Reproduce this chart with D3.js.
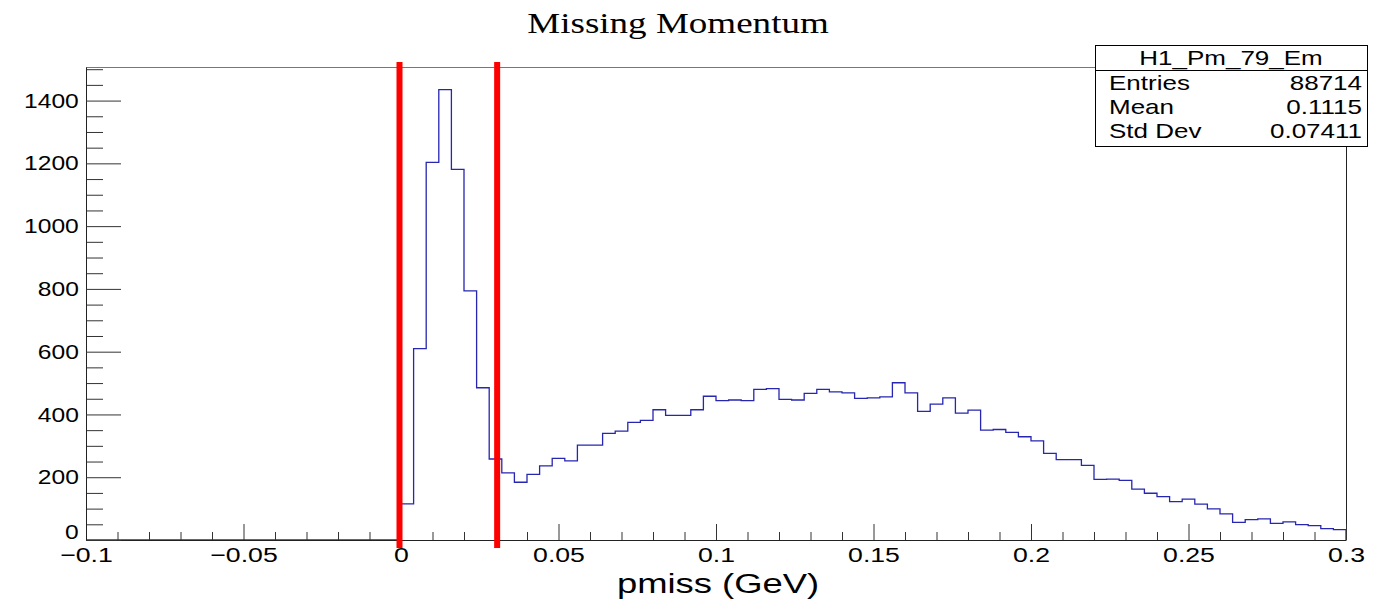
<!DOCTYPE html>
<html>
<head>
<meta charset="utf-8">
<script src="https://cdn.jsdelivr.net/npm/d3@7"></script>
<style>
  body { margin: 0; background: #fff; }
  svg { display: block; }
</style>
</head>
<body>
<svg id="chart" width="1391" height="603"></svg>
<script>
// Histogram H1_Pm_79_Em: 100 bins of 0.004 GeV from -0.1 to 0.3
const binStart = -0.1;
const binWidth = 0.004;
const counts = [
  // -0.100 .. 0.000 (empty)
  0, 0, 0, 0, 0, 0, 0, 0, 0, 0,
  0, 0, 0, 0, 0, 0, 0, 0, 0, 0,
  0, 0, 0, 0, 0,
  // 0.000 .. 0.300
  115, 610, 1203, 1435, 1181, 794, 485, 258, 214, 184,
  209, 236, 260, 252, 302, 302, 340, 347, 375, 381,
  415, 397, 397, 415, 458, 444, 446, 444, 480, 482,
  448, 446, 467, 480, 472, 469, 451, 453, 456, 501,
  469, 410, 433, 453, 404, 414, 350, 352, 343, 329,
  316, 276, 256, 256, 238, 193, 194, 190, 162, 149,
  138, 122, 130, 114, 99, 83, 56, 65, 67, 53,
  58, 49, 46, 36, 33
];

// Selection cut on pmiss
const cutValues = [0, 0.031];

const xDomain = [-0.1, 0.3];
const yMax = 1507;
const xMajorTicks = [-0.1, -0.05, 0, 0.05, 0.1, 0.15, 0.2, 0.25, 0.3];
const xTickLabels = ["\u22120.1", "\u22120.05", "0", "0.05", "0.1", "0.15", "0.2", "0.25", "0.3"];
const yMajorTicks = [0, 200, 400, 600, 800, 1000, 1200, 1400];

const titleText = "Missing Momentum";
const xTitle = "pmiss (GeV)";
const statsName = "H1_Pm_79_Em";
const statsLabels = ["Entries", "Mean", "Std Dev"];
const statsValues = ["88714", "0.1115", "0.07411"];

// Layout
const frame = { left: 86, right: 1346, top: 67, bottom: 540 };
const stretch = 1.3;   // horizontal glyph stretch used for text
const sans = "Liberation Sans, Arial, Helvetica, sans-serif";
const serif = "Liberation Serif, Times New Roman, serif";

const svg = d3.select("#chart");

const x = d3.scaleLinear().domain(xDomain).range([frame.left, frame.right]);
const y = d3.scaleLinear().domain([0, yMax]).range([frame.bottom, frame.top]);

// Frame (top and right edges)
svg.append("line")
  .attr("x1", frame.left).attr("x2", frame.right)
  .attr("y1", frame.top + 0.5).attr("y2", frame.top + 0.5)
  .attr("stroke", "#777").attr("stroke-width", 1);
svg.append("line")
  .attr("x1", frame.right + 0.5).attr("x2", frame.right + 0.5)
  .attr("y1", frame.top).attr("y2", frame.bottom)
  .attr("stroke", "#222").attr("stroke-width", 1);

// Histogram outline
const pts = [[binStart, 0]];
counts.forEach((c, i) => pts.push([binStart + i * binWidth, c]));
const xEnd = binStart + counts.length * binWidth;
pts.push([xEnd, counts[counts.length - 1]]);
pts.push([xEnd, 0]);

const step = d3.line()
  .x(d => x(d[0]))
  .y(d => y(d[1]))
  .curve(d3.curveStepAfter);

svg.append("path")
  .datum(pts)
  .attr("d", step)
  .attr("fill", "none")
  .attr("stroke", "#2626b0")
  .attr("stroke-width", 1.3);

// Axes
function styleAxis(g) {
  g.select(".domain").attr("stroke", "#222");
  g.selectAll(".tick line").attr("stroke", "#333");
}

// x minor ticks every 0.01
const xMinor = d3.range(-10, 31).map(k => k / 100)
  .filter(v => !xMajorTicks.some(m => Math.abs(m - v) < 1e-9));
svg.append("g")
  .attr("transform", `translate(0,${frame.bottom})`)
  .call(d3.axisBottom(x).tickValues(xMinor).tickSizeInner(-8).tickSizeOuter(0).tickFormat(""))
  .call(g => g.select(".domain").remove())
  .call(g => g.selectAll(".tick line").attr("stroke", "#333"));

const xAxis = svg.append("g")
  .attr("transform", `translate(0,${frame.bottom})`)
  .call(d3.axisBottom(x).tickValues(xMajorTicks).tickSizeInner(-16).tickSizeOuter(0)
    .tickPadding(7).tickFormat((d, i) => xTickLabels[i]))
  .call(styleAxis);
xAxis.selectAll(".tick text")
  .attr("font-family", sans).attr("font-size", 20.5).attr("fill", "#000")
  .attr("transform", `scale(${stretch},1)`);

// y minor ticks every 50
const yMinor = d3.range(0, 1501, 50).filter(v => v % 200 !== 0);
svg.append("g")
  .attr("transform", `translate(${frame.left},0)`)
  .call(d3.axisLeft(y).tickValues(yMinor).tickSizeInner(-17).tickSizeOuter(0).tickFormat(""))
  .call(g => g.select(".domain").remove())
  .call(g => g.selectAll(".tick line").attr("stroke", "#333"));

const yStretch = 1.2;
const yAxis = svg.append("g")
  .attr("transform", `translate(${frame.left},0)`)
  .call(d3.axisLeft(y).tickValues(yMajorTicks).tickSizeInner(-35).tickSizeOuter(0)
    .tickPadding(6).tickFormat(d3.format("d")))
  .call(styleAxis);
yAxis.selectAll(".tick text")
  .attr("font-family", sans).attr("font-size", 20.5).attr("fill", "#000")
  .attr("transform", `scale(${yStretch},1)`);
// the zero label sits just above the x-axis labels
yAxis.selectAll(".tick text").filter(d => d === 0).attr("dy", "-0.05em");

// Cut lines
svg.selectAll("line.cut")
  .data(cutValues)
  .join("line")
  .attr("class", "cut")
  .attr("x1", d => x(d) - 1.5).attr("x2", d => x(d) - 1.5)
  .attr("y1", 62).attr("y2", 548)
  .attr("stroke", "#ff0000").attr("stroke-width", 6);

// Text helper with horizontal stretch
function label(px, py, txt, opts) {
  const g = svg.append("g").attr("transform", `translate(${px},${py}) scale(${stretch},1)`);
  g.append("text")
    .attr("text-anchor", opts.anchor || "start")
    .attr("font-family", opts.family || sans)
    .attr("font-size", opts.size)
    .attr("font-weight", opts.weight || "normal")
    .attr("fill", "#000")
    .text(txt);
  return g;
}

// Title and axis title
label(678, 33, titleText, { anchor: "middle", family: serif, size: 28.5 });
label(718, 593, xTitle, { anchor: "middle", size: 28 });

// Statistics box
const box = { left: 1095, right: 1367, top: 45, head: 70, bottom: 146 };
svg.append("rect")
  .attr("x", box.left + 0.5).attr("y", box.top + 0.5)
  .attr("width", box.right - box.left).attr("height", box.bottom - box.top)
  .attr("fill", "#fff").attr("stroke", "#000").attr("stroke-width", 1);
svg.append("line")
  .attr("x1", box.left).attr("x2", box.right)
  .attr("y1", box.head + 0.5).attr("y2", box.head + 0.5)
  .attr("stroke", "#000");
label((box.left + box.right) / 2, 65, statsName, { anchor: "middle", size: 20 });
statsLabels.forEach((t, i) => {
  const by = 89.5 + i * 24;
  label(box.left + 14, by, t, { size: 20 });
  label(box.right - 5, by, statsValues[i], { anchor: "end", size: 20 });
});
</script>
</body>
</html>
